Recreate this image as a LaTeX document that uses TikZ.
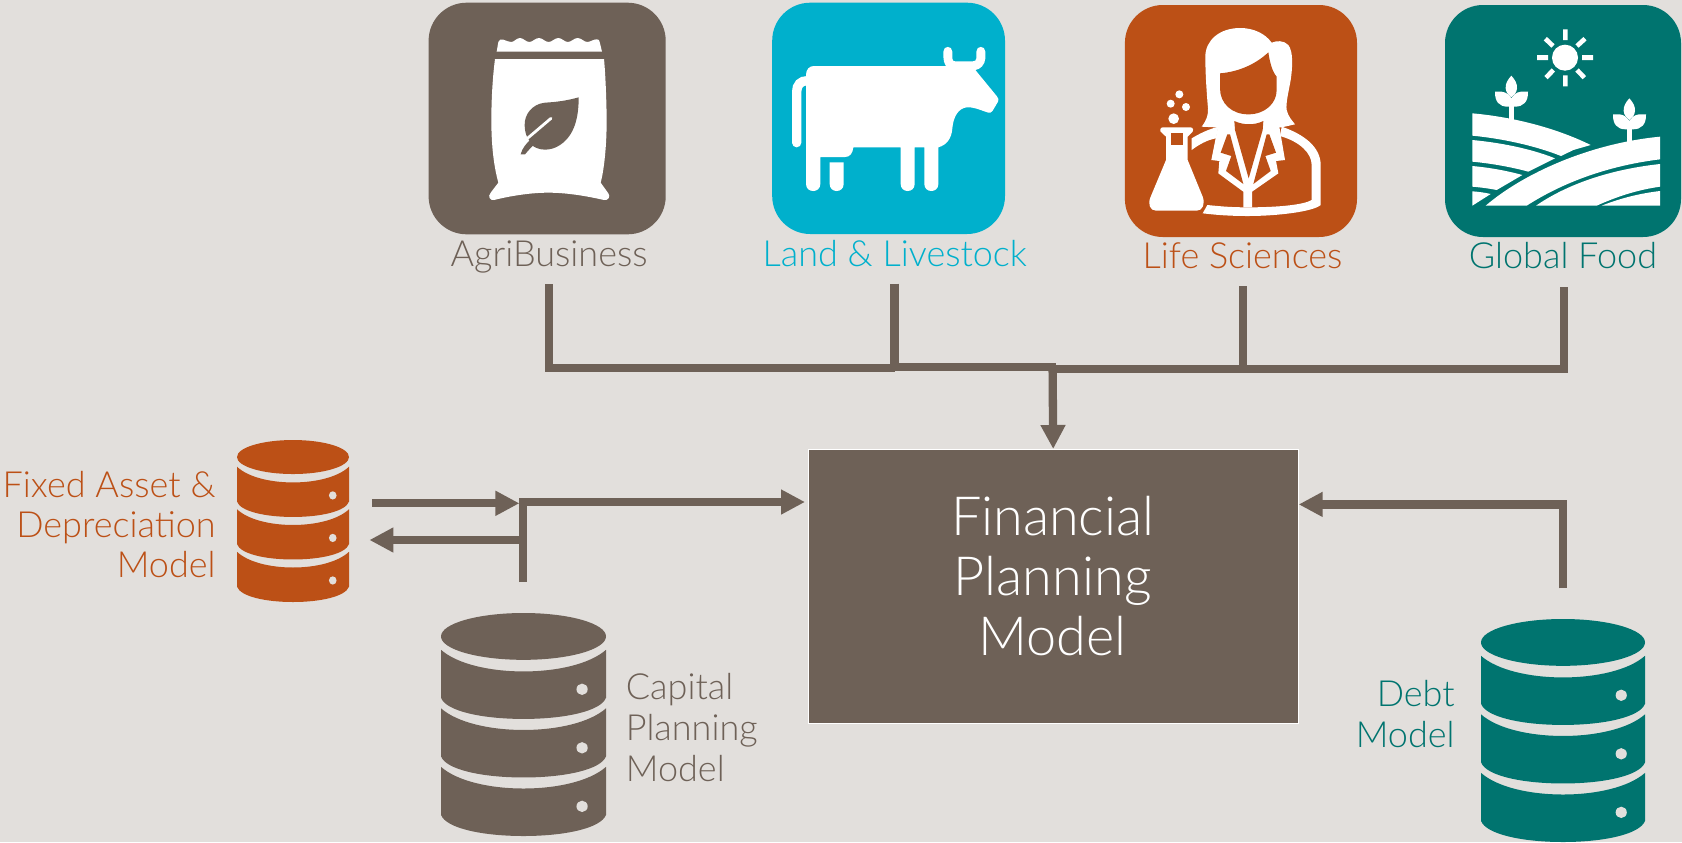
\documentclass[tikz,border=0pt]{standalone}
\usepackage{fontspec}
\usetikzlibrary{arrows.meta}
\newfontfamily\lf{Lato Light}
\definecolor{bg}{HTML}{E2DFDC}
\definecolor{brn}{HTML}{6E6157}
\definecolor{cyn}{HTML}{00B0CC}
\definecolor{org}{HTML}{BC5016}
\definecolor{tea}{HTML}{00746F}
\tikzset{
  conn/.style={draw=brn,line width=4.15pt,line join=miter},
  arr/.style={conn,-{Triangle[length=12pt,width=11.75pt]}},
  tile/.style={rounded corners=19pt},
  lab/.style={inner sep=0pt,font=\lf\fontsize{18}{20.5}\selectfont},
  zoomed/.style={x=0.16667pt,y=-0.16667pt},
}
\newcommand{\dbicon}[6]{%
  \begin{scope}[shift={(#2,#3)},x=#4,y=-#5]
    \coordinate (#1) at (.5,.5);
    \fill[#6] (.5,.105) ellipse [x radius=.5,y radius=.105];
    \foreach \o in {0,.2625,.525}{
      \fill[#6,shift={(0,\o)}] (0,.165) .. controls (.1,.23) and (.3,.262) .. (.5,.262)
        .. controls (.7,.262) and (.9,.23) .. (1,.165) -- (1,.38)
        .. controls (.97,.44) and (.75,.475) .. (.5,.475)
        .. controls (.25,.475) and (.03,.44) .. (0,.38) -- cycle;
      \fill[bg,shift={(0,\o)}] (.855,.342) ellipse [x radius=.034,y radius=.0255];
    }
  \end{scope}}
\begin{document}
\begin{tikzpicture}[x=0.5pt,y=-0.5pt]
\useasboundingbox (0,0) rectangle (1682,842);
\fill[bg] (0,0) rectangle (1682,842);

% tiles
\fill[brn,tile] (428.6,2.7) rectangle (665.7,234.3);
\fill[cyn,tile] (772.2,2.7) rectangle (1005,234);
\fill[org,tile] (1124.9,5) rectangle (1357,237);
\fill[tea,tile] (1445,5) rectangle (1681,237);

% bag
\begin{scope}[shift={(480,20)},zoomed]
\fill[white] (50,95) -- (55,66) .. controls (57,58) and (63,57) .. (70,59)
 .. controls (80,62) and (88,67) .. (95,66) .. controls (103,65) and (110,54) .. (120,54)
 .. controls (130,54) and (138,66) .. (148,66) .. controls (158,66) and (166,54) .. (177,54)
 .. controls (188,54) and (195,66) .. (206,66) .. controls (216,66) and (224,54) .. (235,54)
 .. controls (246,54) and (253,66) .. (264,66) .. controls (274,66) and (282,54) .. (293,54)
 .. controls (304,54) and (312,66) .. (322,66) .. controls (330,66) and (340,58) .. (350,58)
 .. controls (356,58) and (358,60) .. (359,66) -- (366,95) -- cycle;
\fill[white] (45,117) -- (372,117) .. controls (378,180) and (380,280) .. (380,300)
 .. controls (380,380) and (372,450) .. (362,488) -- (385,520) .. controls (392,530) and (385,542) .. (372,540)
 .. controls (320,528) and (260,518) .. (205,518) .. controls (150,518) and (90,528) .. (42,540)
 .. controls (30,542) and (22,530) .. (32,518) -- (55,488) .. controls (42,440) and (34,380) .. (34,300)
 .. controls (34,240) and (38,170) .. (45,117) -- cycle;
\fill[brn] (296,232) .. controls (260,242) and (230,246) .. (195,248) .. controls (155,252) and (133,285) .. (134,315)
 .. controls (134,330) and (137,342) .. (142,352) -- (155,375) .. controls (175,392) and (210,395) .. (240,375)
 .. controls (285,345) and (296,290) .. (296,232) -- cycle;
\draw[white,line width=1.4pt,line cap=round] (213,295) -- (140,357);
\fill[brn] (122,403) .. controls (126,385) and (140,370) .. (148,362) -- (160,376) .. controls (150,385) and (142,395) .. (135,403) -- cycle;
\end{scope}

% cow
\begin{scope}[shift={(780,30)},zoomed]
\fill[white] (78,135) .. controls (78,118) and (88,108) .. (102,108) -- (498,108)
 .. controls (492,98) and (490,90) .. (490,80) -- (490,65) .. controls (490,46) and (517,46) .. (517,65)
 -- (517,85) .. controls (517,91) and (520,94) .. (525,94) -- (578,94) .. controls (585,94) and (589,91) .. (589,85)
 -- (589,65) .. controls (589,46) and (616,46) .. (616,65) -- (616,85) .. controls (615,105) and (600,118) .. (586,120)
 -- (650,198) .. controls (656,205) and (657,210) .. (654,215) -- (638,242) .. controls (634,248) and (630,249) .. (625,248)
 .. controls (600,240) and (580,230) .. (560,232) .. controls (535,235) and (520,260) .. (517,295)
 .. controls (515,325) and (500,345) .. (475,352) -- (475,462) .. controls (475,490) and (433,490) .. (433,462)
 -- (433,352) -- (404,352) -- (404,462) .. controls (404,490) and (362,490) .. (362,462) -- (362,352) -- (220,352)
 .. controls (218,370) and (210,381) .. (195,381) -- (121,381) -- (121,462) .. controls (121,490) and (78,490) .. (78,462) -- cycle;
\fill[white] (149,397) -- (191,397) -- (191,462) .. controls (191,490) and (149,490) .. (149,462) -- cycle;
\draw[white,line width=4.67pt,line cap=round] (50,338) -- (50,185) .. controls (50,165) and (62,152) .. (82,152);
\end{scope}

% scientist
\begin{scope}[shift={(1140,20)},zoomed]
\fill[white] (185,320) .. controls (200,300) and (205,285) .. (204,265) .. controls (200,220) and (196,160) .. (196,110)
 .. controls (196,60) and (240,24) .. (300,24) .. controls (340,24) and (375,40) .. (395,68)
 .. controls (410,62) and (430,60) .. (445,75) .. controls (460,95) and (458,140) .. (452,180)
 .. controls (445,220) and (437,250) .. (440,270) .. controls (445,290) and (455,300) .. (465,313)
 -- (425,322) -- (225,322) -- cycle;
\fill[org] (240,160) .. controls (300,155) and (350,130) .. (385,97) .. controls (390,130) and (397,155) .. (410,170)
 -- (410,210) .. controls (410,250) and (375,283) .. (325,283) .. controls (275,283) and (240,250) .. (240,205) -- cycle;
% flask
\fill[white] (68,322) -- (152,322) .. controls (160,322) and (162,334) .. (155,338) -- (143,350) -- (143,420)
 -- (188,530) .. controls (196,552) and (188,572) .. (170,572) -- (48,572) .. controls (30,572) and (22,552) .. (32,530)
 -- (78,420) -- (78,350) -- (65,338) .. controls (58,334) and (60,322) .. (68,322) -- cycle;
\fill[org] (92,338) rectangle (130,375);
\fill[white] (101,296) circle [radius=16] (92,251) circle [radius=12] (138,261) circle [radius=12] (118,223) circle [radius=12];
\end{scope}
\begin{scope}[shift={(1190,110)},zoomed]
\fill[white] (84,50) -- (64,150) -- (88,153) -- (85,190) -- (160,245) -- (160,292) -- (186,292) -- (186,245)
 -- (265,190) -- (258,153) -- (285,150) -- (268,50) -- cycle;
\fill[org] (133,33) .. controls (160,46) and (195,46) .. (220,33) -- (218,60) -- (176,205) -- (135,60) -- cycle;
\fill[org] (112,73) -- (92,128) -- (124,138) -- (108,183) -- (160,222) -- (120,73) -- cycle;
\fill[org] (238,73) -- (258,128) -- (226,138) -- (242,183) -- (190,222) -- (230,73) -- cycle;
\fill[white] (5,85) .. controls (30,70) and (55,58) .. (85,50) -- (78,85) .. controls (50,90) and (25,105) .. (5,120) -- cycle;
\fill[white] (275,50) .. controls (340,72) and (392,110) .. (392,165) -- (392,285)
 .. controls (370,305) and (260,318) .. (175,318) .. controls (120,318) and (80,315) .. (38,310) -- (52,285)
 .. controls (100,290) and (130,292) .. (175,292) .. controls (260,292) and (340,285) .. (365,270) -- (365,165)
 .. controls (365,130) and (330,95) .. (270,78) -- cycle;
\end{scope}

% field
\begin{scope}[shift={(1460,20)},zoomed]
\fill[white] (315,113) circle [radius=39];
\fill[white] (309,28) rectangle (323,60) (309,166) rectangle (323,199) (231,105) rectangle (264,120) (366,105) rectangle (399,120);
\draw[white,line width=2.33pt] (256,56) -- (279,78) (375,56) -- (351,78) (258,173) -- (280,150) (373,173) -- (351,150);
\foreach \dx/\dy in {0/0,354/68}{
 \begin{scope}[shift={(\dx,\dy)}]
 \fill[white] (148,255) rectangle (161,300);
 \fill[white] (154,167) .. controls (142,180) and (136,192) .. (137,205) .. controls (138,218) and (146,226) .. (154,232)
  .. controls (162,226) and (170,218) .. (171,205) .. controls (172,192) and (166,180) .. (154,167) -- cycle;
 \fill[white] (105,215) -- (125,215) .. controls (140,216) and (150,228) .. (154,235) .. controls (158,228) and (168,216) .. (183,215)
  -- (204,215) .. controls (205,245) and (190,260) .. (165,260) -- (143,260) .. controls (118,260) and (104,245) .. (105,215) -- cycle;
 \end{scope}}
\fill[white] (37,280) .. controls (150,290) and (280,320) .. (392,375) -- (340,390) -- (303,408) .. controls (220,375) and (120,355) .. (37,347) -- cycle;
\fill[white] (37,360) .. controls (120,368) and (210,385) .. (285,415) -- (205,455) .. controls (150,440) and (90,430) .. (37,425) -- cycle;
\fill[white] (37,438) .. controls (90,443) and (140,452) .. (187,465) -- (110,510) .. controls (85,505) and (60,502) .. (37,500) -- cycle;
\fill[white] (37,514) .. controls (55,515) and (75,518) .. (92,522) -- (37,557) -- cycle;
\fill[white] (77,557) .. controls (190,460) and (390,370) .. (600,350) -- (600,418) .. controls (460,435) and (320,480) .. (200,557) -- cycle;
\fill[white] (228,557) .. controls (340,480) and (480,445) .. (600,432) -- (600,500) .. controls (530,510) and (470,530) .. (410,557) -- cycle;
\fill[white] (425,557) .. controls (480,535) and (540,520) .. (600,513) -- (600,557) -- cycle;
\end{scope}

% tile captions
\node[lab,anchor=base,text=brn] (agri) at (549,266) {AgriBusiness};
\node[lab,anchor=base,text=cyn] (land) at (894.8,266) {Land \& Livestock};
\node[lab,anchor=base,text=org] (life) at (1242.5,268.7) {Life Sciences};
\node[lab,anchor=base,text=tea] (food) at (1563,268.7) {Global Food};

% databases
\dbicon{fixed}{237}{440}{56pt}{81pt}{org}
\dbicon{capital}{441}{613}{82.5pt}{111.5pt}{brn}
\dbicon{debt}{1481}{619}{82pt}{111.5pt}{tea}

\node[lab,anchor=north east,align=right,text=org,font=\lf\fontsize{18}{20}\selectfont] (fixedlab) at (216,470.5) {Fixed Asset \&\\Depreciation\\Model};
\node[lab,anchor=north west,align=left,text=brn] (caplab) at (625.5,673) {Capital\\Planning\\Model};
\node[lab,anchor=north east,align=right,text=tea] (debtlab) at (1455,680) {Debt\\Model};

% main box
\node[fill=brn,draw=white,line width=0.5pt,anchor=north west,minimum width=245pt,minimum height=136.8pt,inner sep=0pt] (box) at (807.7,449) {};
\node[align=center,text=white,inner sep=0pt,font=\lf\fontsize{27}{30}\selectfont] (boxlab) at (1052.7,576.5) {Financial\\Planning\\Model};

% connector points
\coordinate (agriOut) at (549,284.3);
\coordinate (landOut) at (894.5,283.7);
\coordinate (lifeOut) at (1242.7,286);
\coordinate (foodOut) at (1564,287);
\coordinate (busA) at (549,368);
\coordinate (busB) at (894.5,368);
\coordinate (busC) at (894.5,367);
\coordinate (busD) at (1056,367);
\coordinate (busE) at (1056,368.7);
\coordinate (busF) at (1242.7,368.7);
\coordinate (busG) at (1242.7,369);
\coordinate (busH) at (1564,369);
\coordinate (busDown) at (1052.6,367);
\coordinate (fixedOut) at (372.4,503.3);
\coordinate (fixedIn) at (519.4,503.3);
\coordinate (capOut) at (523,582);
\coordinate (capJoin) at (523,502);
\coordinate (capBack) at (523,540);
\coordinate (fixedBack) at (369.4,540);
\coordinate (boxLeft) at (805,502);
\coordinate (debtOut) at (1563,588.3);
\coordinate (debtJoin) at (1563,504.4);

% connectors
\draw[conn] (agriOut) -- (busA) -- (busB);
\draw[conn] (landOut) -- (busB);
\draw[conn] (busC) -- (busD);
\draw[conn] (busE) -- (busF);
\draw[conn] (lifeOut) -- (busF);
\draw[conn] (foodOut) -- (busH) -- (busG);
\draw[arr] (busDown) -- (box.north);
\draw[arr] (fixedOut) -- (fixedIn);
\draw[arr] (capOut) -- (capJoin) -- (boxLeft);
\draw[arr] (capBack) -- (fixedBack);
\draw[arr] (debtOut) -- (debtJoin) -- (debtJoin -| box.east);
\end{tikzpicture}
\end{document}
